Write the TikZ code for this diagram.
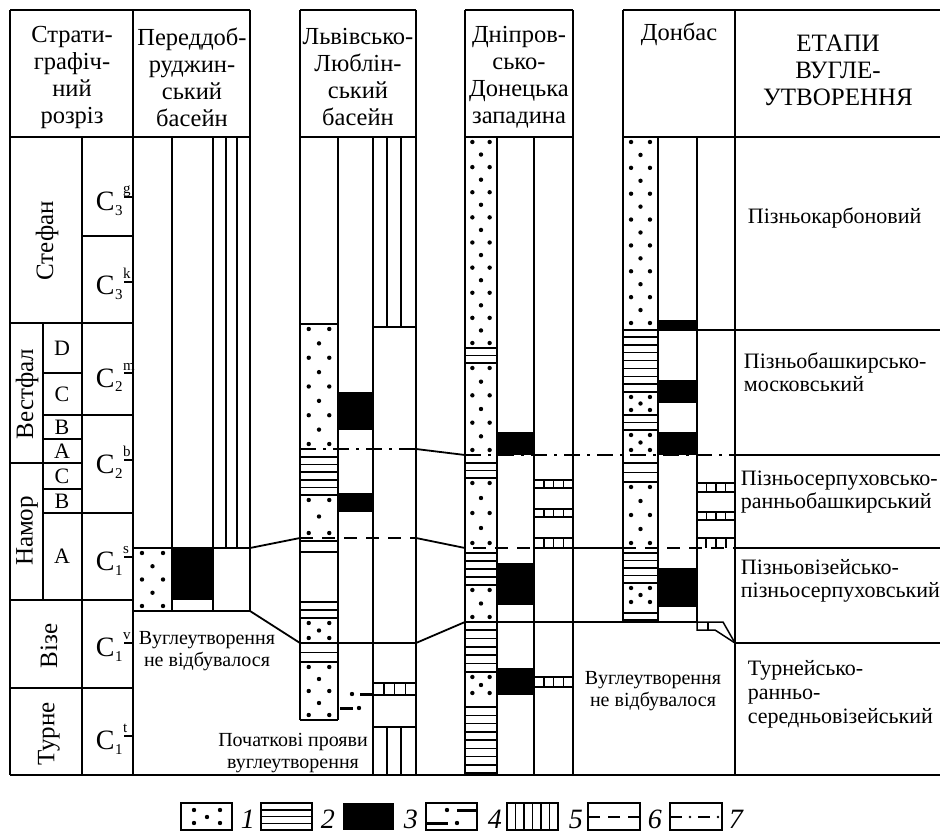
\documentclass[tikz,border=0pt]{standalone}
\usepackage{fontspec}
\setmainfont{Liberation Serif}
\newcommand\SandFill[4]{%
  \pgfmathsetmacro\sfH{(#4)-(#2)}%
  \pgfmathtruncatemacro\sfN{max(2,2*round((\sfH-10)/26))}%
  \pgfmathsetmacro\sfS{(\sfH-10)/\sfN}%
  \pgfmathsetmacro\sfA{(#1)+0.23*((#3)-(#1))}%
  \pgfmathsetmacro\sfB{(#1)+0.77*((#3)-(#1))}%
  \pgfmathsetmacro\sfC{(#1)+0.5*((#3)-(#1))}%
  \foreach \k in {0,...,\sfN}{%
    \pgfmathsetmacro\sfY{(#2)+5+\k*\sfS}%
    \ifodd\k\relax
      \fill (\sfC,\sfY) circle[radius=2.2pt];
    \else
      \fill (\sfA,\sfY) circle[radius=2.2pt] (\sfB,\sfY) circle[radius=2.2pt];
    \fi
  }%
}
\newcommand\HStripes[4]{%
  \pgfmathtruncatemacro\hsN{max(1,round(((#4)-(#2))/8))}%
  \foreach \k in {0,...,\hsN}{%
    \pgfmathsetmacro\hsY{(#2)+\k*((#4)-(#2))/\hsN}%
    \draw[stripe] (#1,\hsY) -- (#3,\hsY);
  }%
}
\newcommand\Brick[4]{%
  \draw[stripe] (#1,#2) rectangle (#3,#4);
  \foreach \k in {1,2,3}{%
    \pgfmathsetmacro\bkX{(#1)+\k*((#3)-(#1))/4}%
    \draw[stripe] (\bkX,#2) -- (\bkX,#4);
  }%
}
\newcommand\Cidx[2]{C\kern0.5pt\raisebox{-5pt}{\fontsize{15}{15}\selectfont #1}\kern0.5pt\raisebox{17pt}{\fontsize{15}{15}\selectfont #2}}
\begin{document}
\begin{tikzpicture}[x=1pt,y=-1pt,line width=1.8pt,line join=miter]
\tikzset{
  stripe/.style={line width=1.5pt},
  coalbox/.style={fill=black,draw=none},
  dashdotseven/.style={line width=1.8pt,dash pattern=on 16pt off 7pt on 3pt off 7pt},
  dashsix/.style={line width=1.8pt,dash pattern=on 13pt off 9pt},
  hdrtext/.style={font=\fontsize{24.5}{27}\selectfont,align=center,inner sep=0pt},
  stagetext/.style={font=\fontsize{22}{23}\selectfont,align=left,anchor=west,inner sep=0pt},
  smalltext/.style={font=\fontsize{20}{22.5}\selectfont,align=center,inner sep=0pt},
  lettertext/.style={font=\fontsize{22}{22}\selectfont,inner sep=0pt},
  rottext/.style={font=\fontsize{25}{25}\selectfont,inner sep=0pt,rotate=90},
  idxtext/.style={font=\fontsize{28}{28}\selectfont,inner sep=0pt,anchor=base west},
  legnum/.style={font=\itshape\fontsize{28}{28}\selectfont,inner sep=0pt,anchor=base west},
}
\path[use as bounding box] (0,0) rectangle (940,834);

% ---------- fills first ----------
\fill[coalbox] (172,548) rectangle (213,600);
\fill[coalbox] (338,392) rectangle (373,430);
\fill[coalbox] (338,493) rectangle (373,512);
\fill[coalbox] (497,432) rectangle (534,455);
\fill[coalbox] (497,563) rectangle (534,605);
\fill[coalbox] (497,668) rectangle (534,695);
\fill[coalbox] (658,320) rectangle (697,330);
\fill[coalbox] (658,380) rectangle (697,403);
\fill[coalbox] (658,432) rectangle (697,455);
\fill[coalbox] (658,568) rectangle (697,607);

% ---------- frame ----------
\draw (10,775) -- (940,775);
\draw (10,10) -- (250,10);
\draw (10,10) -- (10,775);
\draw (10,137) -- (250,137);
\draw (133,10) -- (133,775);
\draw (250,10) -- (250,611);
\draw (300,10) -- (416,10);
\draw (300,137) -- (416,137);
\draw (300,10) -- (300,720);
\draw (416,10) -- (416,775);
\draw (465,10) -- (573,10);
\draw (465,137) -- (573,137);
\draw (465,10) -- (465,775);
\draw (573,10) -- (573,775);
\draw (623,10) -- (940,10);
\draw (623,137) -- (940,137);
\draw (623,10) -- (623,622);
\draw (735,10) -- (735,775);

% ---------- headers ----------
\node[hdrtext] (h1) at (72,77) {Страти-\\графіч-\\ний\\розріз};
\node[hdrtext] (h2) at (192,77) {Переддоб-\\руджин-\\ський\\басейн};
\node[hdrtext] (h3) at (358,77) {Львівсько-\\Люблін-\\ський\\басейн};
\node[hdrtext] (h4) at (519,77) {Дніпров-\\сько-\\Донецька\\западина};
\node[hdrtext] (h5) at (679,34) {Донбас};
\node[hdrtext,font=\fontsize{25}{27}\selectfont] (h6) at (838,70) {ЕТАПИ\\ВУГЛЕ-\\УТВОРЕННЯ};

% ---------- stratigraphic column ----------
\draw (82,137) -- (82,775);
\draw (43,323) -- (43,600);
\draw (82,236) -- (133,236);
\draw (10,323) -- (133,323);
\draw (43,373) -- (82,373);
\draw (43,415) -- (133,415);
\draw (43,439) -- (82,439);
\draw (10,463) -- (82,463);
\draw (43,489) -- (82,489);
\draw (43,513) -- (133,513);
\draw (10,600) -- (133,600);
\draw (10,688) -- (133,688);
\node[rottext] (s1) at (47,241) {Стефан};
\node[rottext] (s2) at (27,394) {Вестфал};
\node[rottext] (s3) at (27,531) {Намор};
\node[rottext] (s4) at (49,646) {Візе};
\node[rottext] (s5) at (49,734) {Турне};
\node[lettertext] (l1) at (62,348) {D};
\node[lettertext] (l2) at (62,394) {C};
\node[lettertext] (l3) at (62,427) {B};
\node[lettertext] (l4) at (62,451) {A};
\node[lettertext] (l5) at (62,476) {C};
\node[lettertext] (l6) at (62,501) {B};
\node[lettertext] (l7) at (62,556) {A};
\node[idxtext] (c1) at (95,211) {\Cidx{3}{g}};
\node[idxtext] (c2) at (95,295) {\Cidx{3}{k}};
\node[idxtext] (c3) at (95,387) {\Cidx{2}{m}};
\node[idxtext] (c4) at (95,473) {\Cidx{2}{b}};
\node[idxtext] (c5) at (95,570) {\Cidx{1}{s}};
\node[idxtext] (c6) at (95,656) {\Cidx{1}{v}};
\node[idxtext] (c7) at (95,749) {\Cidx{1}{t}};
\foreach \t in {197,282,373,460,557,643,736}{\draw (124,\t) -- (133,\t);}

% ---------- Переддобруджинський ----------
\draw (172,137) -- (172,611);
\draw (213,137) -- (213,611);
\draw[stripe] (226,137) -- (226,548);
\draw[stripe] (237,137) -- (237,548);
\draw (133,548) -- (250,548);
\draw (133,611) -- (250,611);
\SandFill{133}{548}{172}{611}
\node[smalltext] (t1) at (207,651) {Вуглеутворення\\не відбувалося};

% ---------- Львівсько-Люблінський ----------
\draw (338,137) -- (338,720);
\draw (373,137) -- (373,775);
\draw[stripe] (387,137) -- (387,327);
\draw[stripe] (401,137) -- (401,327);
\draw (373,327) -- (416,327);
\draw (373,727) -- (416,727);
\draw[stripe] (387,727) -- (387,775);
\draw[stripe] (401,727) -- (401,775);
\draw (300,324) -- (338,324);
\draw (300,720) -- (338,720);
\SandFill{300}{324}{338}{449}
\HStripes{300}{457}{338}{495}
\SandFill{300}{495}{338}{538}
\HStripes{300}{541}{338}{552}
\HStripes{300}{602}{338}{618}
\SandFill{300}{618}{338}{643}
\HStripes{300}{643}{338}{662}
\SandFill{300}{662}{338}{720}
\Brick{373}{683}{416}{695}
% initial coal manifestations (pattern 4)
\fill (352,694) circle[radius=2.2pt];
\draw[line width=3pt] (360,694) -- (372,694);
\draw[line width=3pt] (340,708) -- (353,708);
\fill (359,708) circle[radius=2.2pt];
\node[smalltext] (t2) at (293,753) {Початкові прояви\\вуглеутворення};

% ---------- Дніпровсько-Донецька ----------
\draw (497,137) -- (497,775);
\draw (534,137) -- (534,775);
\SandFill{465}{137}{497}{348}
\HStripes{465}{348}{497}{363}
\SandFill{465}{363}{497}{455}
\HStripes{465}{463}{497}{478}
\SandFill{465}{478}{497}{548}
\HStripes{465}{553}{497}{585}
\SandFill{465}{585}{497}{622}
\HStripes{465}{630}{497}{672}
\SandFill{465}{672}{497}{698}
\HStripes{465}{707}{497}{773}
\Brick{534}{480}{573}{488}
\Brick{534}{509}{573}{517}
\Brick{534}{538}{573}{548}
\Brick{534}{677}{573}{687}

% ---------- Донбас ----------
\draw (658,137) -- (658,622);
\draw (697,137) -- (697,622);
\SandFill{623}{137}{658}{328}
\draw (623,330) -- (940,330);
\HStripes{623}{337}{658}{392}
\SandFill{623}{392}{658}{415}
\HStripes{623}{415}{658}{430}
\SandFill{623}{430}{658}{455}
\HStripes{623}{463}{658}{482}
\SandFill{623}{482}{658}{548}
\HStripes{623}{553}{658}{583}
\SandFill{623}{583}{658}{607}
\HStripes{623}{613}{658}{620}
\Brick{697}{483}{735}{492}
\Brick{697}{512}{735}{520}
\draw[stripe] (697,538) -- (735,538);
\foreach \x in {706,716,726}{\draw[stripe] (\x,538) -- (\x,548);}
% bottom wedge
\draw[stripe] (697,622) -- (723,622) -- (735,643);
\draw[stripe] (697,622) -- (697,630) -- (715,630) -- (735,643);
\draw[stripe] (708,622) -- (708,630);
\node[smalltext] (t3) at (653,691) {Вуглеутворення\\не відбувалося};

% ---------- correlation lines ----------
\coordinate (p1) at (250,548); \coordinate (p2) at (250,611);
\draw (p1) -- (300,538);
\draw (p2) -- (300,643);
\draw[dashdotseven] (300,449) -- (416,449);
\draw (416,449) -- (465,455);
\draw[dashdotseven] (465,455) -- (735,455);
\draw (735,455) -- (940,455);
\draw[dashsix] (300,538) -- (416,538);
\draw (416,538) -- (465,548);
\draw[dashsix,dash phase=-8pt] (465,548) -- (534,548);
\draw (573,548) -- (623,548);
\draw[dashsix] (623,548) -- (735,548);
\draw (735,548) -- (940,548);
\draw (300,643) -- (416,643);
\draw (416,643) -- (465,622);
\draw (465,622) -- (697,622);
\draw (735,643) -- (940,643);

% ---------- stages ----------
\node[stagetext] (e1) at (747,218) {Пізньокарбоновий};
\node[stagetext] (e2) at (743,372) {Пізньобашкирсько-\\московський};
\node[stagetext] (e3) at (740,492) {Пізньосерпуховсько-\\ранньобашкирський};
\node[stagetext] (e4) at (740,581) {Пізньовізейсько-\\пізньосерпуховський};
\node[stagetext,font=\fontsize{22}{24}\selectfont] (e5) at (747,694) {Турнейсько-\\ранньо-\\середньовізейський};

% ---------- legend ----------
\draw[stripe] (181,803) rectangle (232,830);
\foreach \p in {(194,810),(194,823),(207,817),(220,810),(220,823)}{\fill \p circle[radius=2.2pt];}
\node[legnum] (n1) at (240,828) {1};
\draw[stripe] (261,803) rectangle (312,830);
\foreach \y in {809.75,816.5,823.25}{\draw[stripe] (261,\y) -- (312,\y);}
\node[legnum] (n2) at (320,828) {2};
\fill (343,803) rectangle (394,830);
\node[legnum] (n3) at (403,828) {3};
\draw[stripe] (426,803) rectangle (477,830);
\fill (447,810) circle[radius=2.2pt];
\draw[line width=3pt] (457,810) -- (477,810);
\draw[line width=3pt] (426,823) -- (448,823);
\fill (457,823) circle[radius=2.2pt];
\node[legnum] (n4) at (487,828) {4};
\draw[stripe] (507,803) rectangle (558,830);
\foreach \x in {515.5,524,532.5,541,549.5}{\draw[stripe] (\x,803) -- (\x,830);}
\node[legnum] (n5) at (568,828) {5};
\draw[stripe] (588,803) rectangle (640,830);
\foreach \a/\b in {588/600,608/620,628/640}{\draw[stripe] (\a,817) -- (\b,817);}
\node[legnum] (n6) at (647,828) {6};
\draw[stripe] (670,803) rectangle (722,830);
\draw[stripe] (670,817) -- (682,817);
\draw[stripe] (698,817) -- (710,817);
\fill (690,817) circle[radius=1.3pt];
\fill (718,817) circle[radius=1.3pt];
\node[legnum] (n7) at (728,828) {7};
\end{tikzpicture}
\end{document}
